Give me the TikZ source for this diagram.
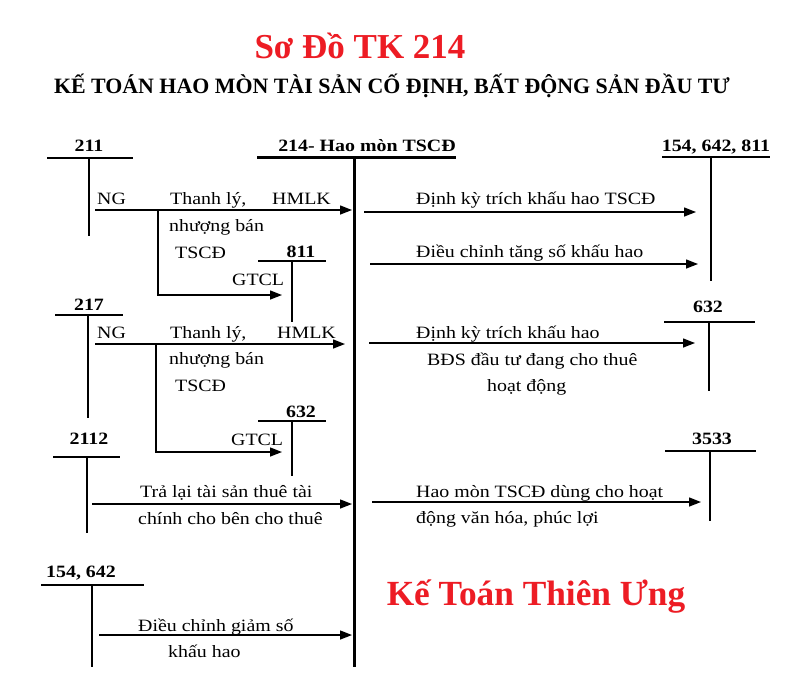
\documentclass[tikz,border=0pt]{standalone}
\usepackage{fontspec}
\setmainfont{Liberation Serif}
\newfontfamily\bodyfont{Liberation Serif}[FakeStretch=1.15]
\usetikzlibrary{arrows.meta}
\definecolor{titlered}{RGB}{237,28,36}
\begin{document}
\begin{tikzpicture}[x=1pt,y=-1pt,
  txt/.style={font=\bodyfont\fontsize{17.3}{20}\selectfont, inner sep=0pt, anchor=base west},
  acct/.style={font=\bodyfont\bfseries\fontsize{17.3}{20}\selectfont, inner sep=0pt, anchor=base},
  tline/.style={line width=1.4pt},
  heavy/.style={line width=3pt},
  arr/.style={line width=1.4pt, -{Triangle[length=12pt,width=9pt]}},
  redtitle/.style={font=\bfseries\fontsize{35}{40}\selectfont, text=titlered, inner sep=0pt, anchor=base}]
\useasboundingbox[fill=white] (0,0) rectangle (791,678);

% titles
\node[redtitle] (title) at (360,58) {Sơ Đồ TK 214};
\node[font=\bfseries\fontsize{21.9}{24}\selectfont, inner sep=0pt, anchor=base] (subtitle) at (392,93)
  {KẾ TOÁN HAO MÒN TÀI SẢN CỐ ĐỊNH, BẤT ĐỘNG SẢN ĐẦU TƯ};
\node[redtitle, font=\bfseries\fontsize{35.3}{40}\selectfont] (brand) at (536,605) {Kế Toán Thiên Ưng};

% central account 214
\node[acct] (t214) at (367,151) {214- Hao mòn TSCĐ};
\draw[heavy] (257,157) -- (456,157);
\coordinate (c214top) at (354,157);
\coordinate (c214bot) at (354,667);
\draw[heavy] (c214top) -- (c214bot);

% left accounts
\node[acct] (a211) at (89,151) {211};
\draw[tline] (47,158) -- (133,158);
\draw[tline] (89,158) -- (89,236);

\node[acct] (a811) at (301,257) {811};
\draw[tline] (258,261) -- (326,261);
\draw[tline] (292,261) -- (292,322);

\node[acct] (a217) at (89,310) {217};
\draw[tline] (55,315) -- (123,315);
\draw[tline] (88,315) -- (88,418);

\node[acct] (a632l) at (301,417) {632};
\draw[tline] (258,421) -- (326,421);
\draw[tline] (292,421) -- (292,476);

\node[acct] (a2112) at (89,444) {2112};
\draw[tline] (53,457) -- (120,457);
\draw[tline] (87,457) -- (87,533);

\node[acct] (a154) at (81,577) {154, 642};
\draw[tline] (41,585) -- (144,585);
\draw[tline] (92,585) -- (92,667);

% right accounts
\node[acct] (a154r) at (716,151) {154, 642, 811};
\draw[tline] (662,157) -- (770,157);
\draw[tline] (711,157) -- (711,281);

\node[acct] (a632r) at (708,312) {632};
\draw[tline] (664,322) -- (755,322);
\draw[tline] (709,322) -- (709,391);

\node[acct] (a3533) at (712,444) {3533};
\draw[tline] (665,451) -- (756,451);
\draw[tline] (710,451) -- (710,521);

% connector coordinates
\coordinate (r1s) at (95,210);  \coordinate (r1e) at (352,210);
\coordinate (b1a) at (158,210); \coordinate (b1b) at (158,295); \coordinate (b1e) at (282,295);
\coordinate (r2s) at (95,344);  \coordinate (r2e) at (345,344);
\coordinate (b2a) at (156,344); \coordinate (b2b) at (156,452); \coordinate (b2e) at (282,452);
\coordinate (r3s) at (92,504);  \coordinate (r3e) at (352,504);
\coordinate (r4s) at (99,635);  \coordinate (r4e) at (352,635);
\coordinate (q1s) at (364,212); \coordinate (q1e) at (696,212);
\coordinate (q2s) at (370,264); \coordinate (q2e) at (698,264);
\coordinate (q3s) at (369,343); \coordinate (q3e) at (695,343);
\coordinate (q4s) at (372,502); \coordinate (q4e) at (701,502);

\draw[arr] (r1s) -- (r1e);
\draw[arr] (b1a) -- (b1b) -- (b1e);
\draw[arr] (r2s) -- (r2e);
\draw[arr] (b2a) -- (b2b) -- (b2e);
\draw[arr] (r3s) -- (r3e);
\draw[arr] (r4s) -- (r4e);
\draw[arr] (q1s) -- (q1e);
\draw[arr] (q2s) -- (q2e);
\draw[arr] (q3s) -- (q3e);
\draw[arr] (q4s) -- (q4e);

% left labels
\node[txt] (ng1) at (97,204) {NG};
\node[txt] (tl1) at (170,204) {Thanh lý,};
\node[txt] (hm1) at (272,204) {HMLK};
\node[txt] (nb1) at (169,231) {nhượng bán};
\node[txt] (ts1) at (175,258) {TSCĐ};
\node[txt] (gt1) at (232,285) {GTCL};

\node[txt] (ng2) at (97,338) {NG};
\node[txt] (tl2) at (170,338) {Thanh lý,};
\node[txt] (hm2) at (277,338) {HMLK};
\node[txt] (nb2) at (169,364) {nhượng bán};
\node[txt] (ts2) at (175,391) {TSCĐ};
\node[txt] (gt2) at (231,445) {GTCL};

\node[txt] (tr1) at (140,497) {Trả lại tài sản thuê tài};
\node[txt] (tr2) at (138,524) {chính cho bên cho thuê};
\node[txt] (dc1) at (138,631) {Điều chỉnh giảm số};
\node[txt] (dc2) at (168,657) {khấu hao};

% right labels
\node[txt] (dk1) at (416,204) {Định kỳ trích khấu hao TSCĐ};
\node[txt] (dt1) at (416,257) {Điều chỉnh tăng số khấu hao};
\node[txt] (dk2) at (416,338) {Định kỳ trích khấu hao};
\node[txt] (bd2) at (427,365) {BĐS đầu tư đang cho thuê};
\node[txt] (hd2) at (487,391) {hoạt động};
\node[txt] (hm3) at (416,497) {Hao mòn TSCĐ dùng cho hoạt};
\node[txt] (vh3) at (416,523) {động văn hóa, phúc lợi};
\end{tikzpicture}
\end{document}
